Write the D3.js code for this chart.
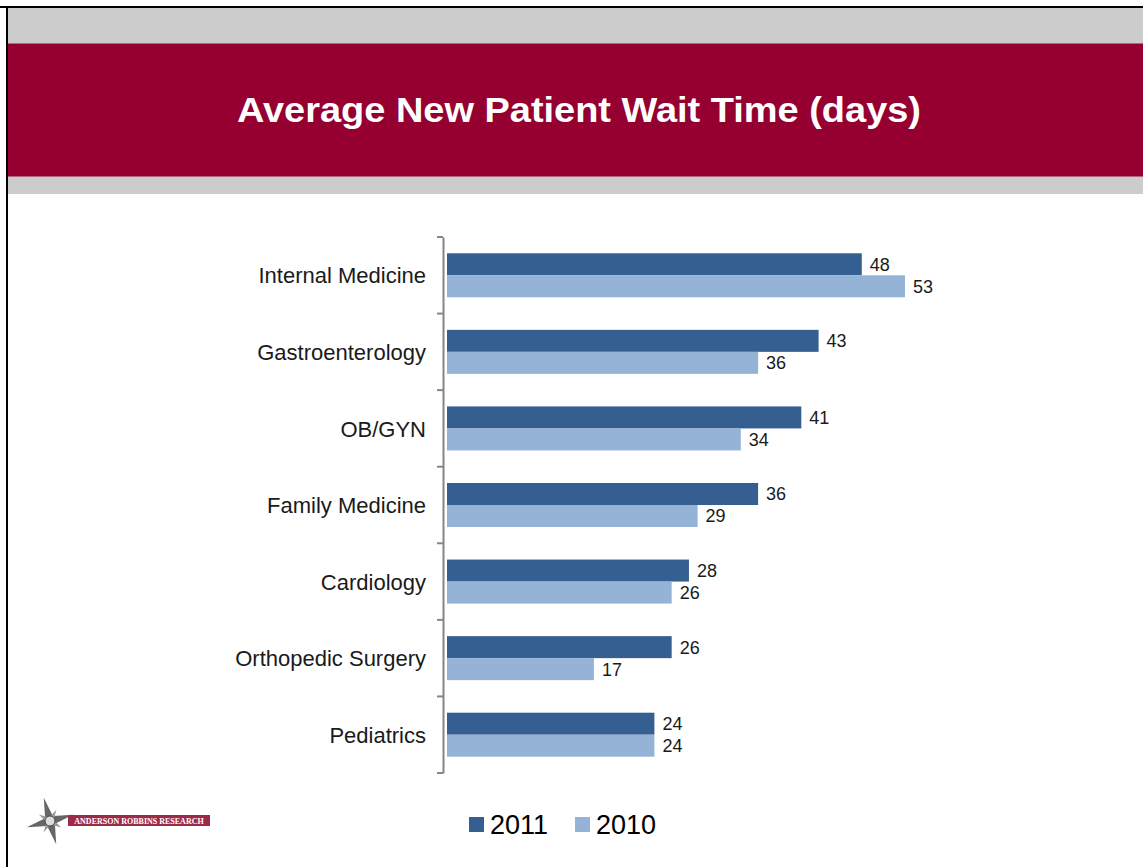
<!DOCTYPE html>
<html>
<head>
<meta charset="utf-8">
<script src="https://cdn.jsdelivr.net/npm/d3@7"></script>
<style>
  body { margin: 0; background: #fff; }
  svg { display: block; font-family: "Liberation Sans", Arial, sans-serif; }
</style>
</head>
<body>
<script>
'use strict';

// chart data
const categories = ["Internal Medicine", "Gastroenterology", "OB/GYN", "Family Medicine",
  "Cardiology", "Orthopedic Surgery", "Pediatrics"];
const seriesNames = ["2011", "2010"];
const values2011 = [48, 43, 41, 36, 28, 26, 24];
const values2010 = [53, 36, 34, 29, 26, 17, 24];
const seriesColors = ["#355f91", "#95b3d7"];
const titleText = "Average New Patient Wait Time (days)";

const W = 1143, H = 867;

const svg = d3.select("body").append("svg")
  .attr("width", W)
  .attr("height", H);

// slide frame: black border top/left, grey bands, crimson title bar
svg.append("rect").attr("x", 0).attr("y", 0).attr("width", W).attr("height", H).attr("fill", "#fff");
svg.append("rect").attr("x", 8).attr("y", 8).attr("width", W - 8).attr("height", 186).attr("fill", "#cccccc");
svg.append("rect").attr("x", 8).attr("y", 43).attr("width", W - 8).attr("height", 134).attr("fill", "#960030");
svg.append("line").attr("x1", 8).attr("x2", W).attr("y1", 43.5).attr("y2", 43.5).attr("stroke", "#b5667f");
svg.append("line").attr("x1", 8).attr("x2", W).attr("y1", 176.5).attr("y2", 176.5).attr("stroke", "#b5667f");
svg.append("line").attr("x1", 0).attr("x2", W).attr("y1", 7).attr("y2", 7).attr("stroke", "#000").attr("stroke-width", 2);
svg.append("line").attr("x1", 7).attr("x2", 7).attr("y1", 6).attr("y2", H).attr("stroke", "#000").attr("stroke-width", 2);

svg.append("text")
  .attr("x", 579)
  .attr("y", 122)
  .attr("text-anchor", "middle")
  .attr("fill", "#fff")
  .attr("textLength", 684)
  .attr("lengthAdjust", "spacingAndGlyphs")
  .style("font-size", "35px")
  .style("font-weight", "bold")
  .text(titleText);

// scales
const axisX = 443;
const x = d3.scaleLinear().domain([0, 53]).range([447, 905]);
const y = d3.scaleBand().domain(categories).range([237, 773]).paddingInner(0).paddingOuter(0);
const ySub = d3.scaleBand().domain(seriesNames).range([0, y.bandwidth()]).paddingInner(0).paddingOuter(0.74);

// category axis
const yAxis = d3.axisLeft(y).tickSize(0).tickPadding(17);
const gAxis = svg.append("g").attr("transform", `translate(${axisX},0)`).call(yAxis);
gAxis.select(".domain").attr("stroke", "#868686").attr("stroke-width", 2);
gAxis.selectAll("text").attr("fill", "#1a1a1a").attr("dy", "0.37em").style("font-size", "22px")
  .style("font-family", "'Liberation Sans', Arial, sans-serif");

// tick marks at category boundaries
const bounds = categories.map(c => y(c)).concat([y.range()[1]]);
svg.selectAll(".boundTick")
  .data(bounds)
  .enter()
  .append("line")
    .attr("x1", axisX - 6).attr("x2", axisX)
    .attr("y1", d => d).attr("y2", d => d)
    .attr("stroke", "#868686").attr("stroke-width", 2);

// bars
const seriesData = [values2011, values2010];
seriesNames.forEach((name, si) => {
  const rows = categories.map((c, i) => ({ cat: c, v: seriesData[si][i] }));
  const g = svg.append("g");
  g.selectAll("rect")
    .data(rows)
    .enter()
    .append("rect")
      .attr("x", x(0))
      .attr("y", d => y(d.cat) + ySub(name))
      .attr("width", d => x(d.v) - x(0))
      .attr("height", ySub.bandwidth())
      .attr("fill", seriesColors[si]);
  g.selectAll("text")
    .data(rows)
    .enter()
    .append("text")
      .attr("x", d => x(d.v) + 8)
      .attr("y", d => y(d.cat) + ySub(name) + ySub.bandwidth() / 2)
      .attr("dy", "0.36em")
      .attr("fill", "#1a1a1a")
      .style("font-size", "18px")
      .text(d => d.v);
});

// legend
const legendX = [469, 575];
seriesNames.forEach((name, si) => {
  svg.append("rect")
    .attr("x", legendX[si]).attr("y", 817)
    .attr("width", 15).attr("height", 15)
    .attr("fill", seriesColors[si]);
  svg.append("text")
    .attr("x", legendX[si] + 21).attr("y", 834)
    .attr("fill", "#000")
    .style("font-size", "27px")
    .text(name);
});

// logo: compass star and name banner
const logo = svg.append("g").attr("transform", "translate(50,821)");
const star = "M0,-24 L4,-4 L24,0 L4,4 L0,24 L-4,4 L-24,0 L-4,-4 Z";
logo.append("path").attr("d", star).attr("fill", "#666").attr("transform", "rotate(-15)");
logo.append("path").attr("d", "M0,-13 L2.5,-2.5 L13,0 L2.5,2.5 L0,13 L-2.5,2.5 L-13,0 L-2.5,-2.5 Z")
  .attr("fill", "#999").attr("transform", "rotate(30)");
logo.append("circle").attr("r", 5).attr("fill", "#ddd").attr("stroke", "#444");
svg.append("rect").attr("x", 68).attr("y", 815).attr("width", 142).attr("height", 11).attr("fill", "#9e2a4a");
svg.append("text")
  .attr("x", 139).attr("y", 824)
  .attr("text-anchor", "middle")
  .attr("fill", "#fff")
  .style("font-size", "8px")
  .style("font-family", "'Liberation Serif', serif")
  .style("font-weight", "bold")
  .text("ANDERSON ROBBINS RESEARCH");
</script>
</body>
</html>
